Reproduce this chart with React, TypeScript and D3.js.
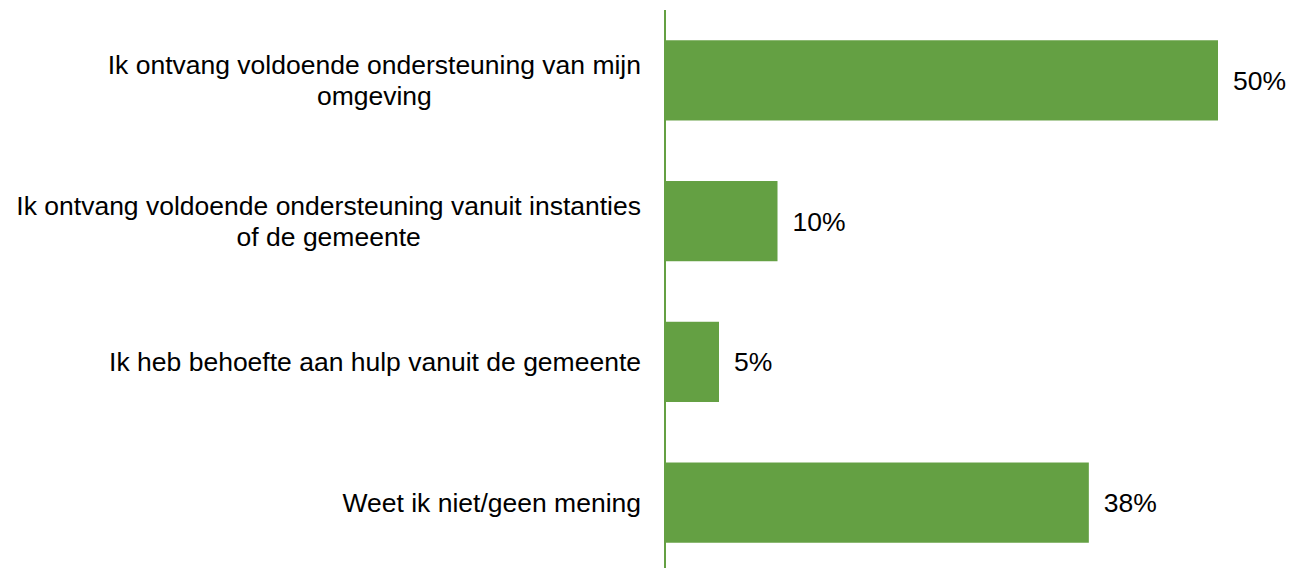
import React from "react";
import * as d3 from "d3";

const categories: string[][] = [
  ["Ik ontvang voldoende ondersteuning van mijn", "omgeving"],
  ["Ik ontvang voldoende ondersteuning vanuit instanties", "of de gemeente"],
  ["Ik heb behoefte aan hulp vanuit de gemeente"],
  ["Weet ik niet/geen mening"],
];
const values: number[] = [50, 10.1, 4.8, 38.3];
const valueLabels: string[] = ["50%", "10%", "5%", "38%"];

const W = 1292;
const H = 568;
const axisX = 665;
const labelRight = 641;
const green = "#64A043";
const fontSize = 26.5;
const fontFamily = "'Liberation Sans', Arial, sans-serif";

function measure(s: string): number {
  const c = document.createElement("canvas").getContext("2d");
  if (!c) return s.length * fontSize * 0.5;
  c.font = `${fontSize}px ${fontFamily}`;
  return c.measureText(s).width;
}

export default function App() {
  const ids = categories.map((_, i) => String(i));
  const y = d3
    .scaleBand<string>()
    .domain(ids)
    .range([10, 573])
    .paddingInner(0.43)
    .paddingOuter(0.215);
  const x = d3.scaleLinear().domain([0, 50]).range([axisX + 1, 1218]);
  const lineH = 31;
  const baseOff = 0.355 * fontSize;
  return (
    <svg
      width={W}
      height={H}
      style={{ position: "absolute", left: 0, top: 0, background: "#fff" }}
      fontFamily={fontFamily}
    >
      {values.map((v, i) => {
        const y0 = y(String(i))!;
        const bw = y.bandwidth();
        const cy = y0 + bw / 2;
        const lines = categories[i];
        const blockW = Math.max(...lines.map(measure));
        const blockCenter = labelRight - blockW / 2;
        return (
          <g key={i}>
            <rect x={x(0)} y={y0} width={x(v) - x(0)} height={bw} fill={green} />
            <text x={x(v) + 15} y={cy + baseOff} fontSize={fontSize} fill="#000">
              {valueLabels[i]}
            </text>
            {lines.map((l, j) => (
              <text
                key={j}
                x={blockCenter}
                y={cy + (j - (lines.length - 1) / 2) * lineH + baseOff}
                fontSize={fontSize}
                textAnchor="middle"
                fill="#000"
              >
                {l}
              </text>
            ))}
          </g>
        );
      })}
      <line x1={axisX} x2={axisX} y1={10} y2={H} stroke={green} strokeWidth={2} />
    </svg>
  );
}
